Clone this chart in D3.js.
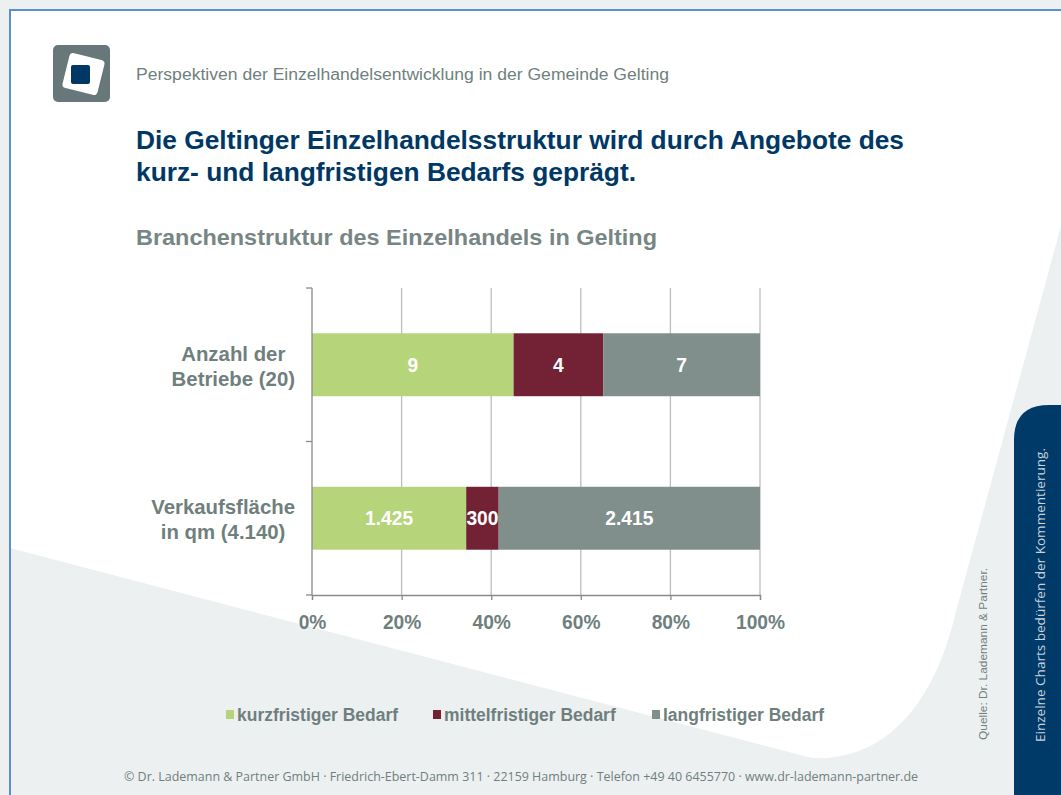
<!DOCTYPE html>
<html>
<head>
<meta charset="utf-8">
<script src="https://cdn.jsdelivr.net/npm/d3@7"></script>
<style>
  body { margin: 0; background: #fff; }
  svg { display: block; font-family: "Liberation Sans", Arial, sans-serif; }
</style>
</head>
<body>
<div id="chart"></div>
<script>
// data
const categories = ["Anzahl der Betriebe (20)", "Verkaufsfläche in qm (4.140)"];
const categoryLines = [["Anzahl der", "Betriebe (20)"], ["Verkaufsfläche", "in qm (4.140)"]];
const seriesNames = ["kurzfristiger Bedarf", "mittelfristiger Bedarf", "langfristiger Bedarf"];
const kurzfristig = [9, 1425];
const mittelfristig = [4, 300];
const langfristig = [7, 2415];
const xTicks = [0, 0.2, 0.4, 0.6, 0.8, 1];

const width = 1061;
const height = 795;
const colors = ["#b6d47a", "#722234", "#808e8c"];
const gray = "#6f7f7e";
const navy = "#003865";

const de = d3.formatLocale({ decimal: ",", thousands: ".", grouping: [3], currency: ["", "€"] });
const fmt = de.format(",d");
const pct = d3.format(".0%");

const svg = d3.select("#chart").append("svg")
  .attr("width", width)
  .attr("height", height);

// squeeze text to a target width (the slide uses a narrow rendering)
function fit(sel, w) {
  sel.attr("textLength", w).attr("lengthAdjust", "spacingAndGlyphs");
}

// background shapes
svg.append("rect").attr("width", width).attr("height", height).attr("fill", "#edf0f1");
svg.append("path")
  .attr("d", "M10,10 L1061,10 L1061,226 L955,615 C940,680 900,762 812,758 L10,548 Z")
  .attr("fill", "#fff");

// frame lines
svg.append("path")
  .attr("d", "M10,795 L10,10 L1061,10")
  .attr("fill", "none")
  .attr("stroke", "#5b8fd2")
  .attr("stroke-width", 2);

// side panel
svg.append("path")
  .attr("d", "M1014,795 L1014,440 Q1014,405 1049,405 L1061,405 L1061,795 Z")
  .attr("fill", "#003a68");
svg.append("text")
  .attr("transform", "translate(1045,742) rotate(-90)")
  .attr("font-family", "'Open Sans', sans-serif")
  .attr("font-size", 13)
  .attr("fill", "#c9d3dc")
  .text("Einzelne Charts bedürfen der Kommentierung.")
  .call(fit, 294);
svg.append("text")
  .attr("transform", "translate(987,740) rotate(-90)")
  .attr("font-family", "'Liberation Sans', sans-serif")
  .attr("font-size", 10)
  .attr("fill", gray)
  .text("Quelle:  Dr. Lademann & Partner.")
  .call(fit, 172);

// logo
svg.append("rect")
  .attr("x", 53).attr("y", 45).attr("width", 57).attr("height", 57).attr("rx", 5)
  .attr("fill", "#68787a");
svg.append("rect")
  .attr("x", -18).attr("y", -18).attr("width", 36).attr("height", 36).attr("rx", 4)
  .attr("transform", "translate(83.5,74) rotate(14)")
  .attr("fill", "#fff");
svg.append("rect")
  .attr("x", 71).attr("y", 65).attr("width", 19).attr("height", 19).attr("rx", 2)
  .attr("fill", navy);

// header texts
svg.append("text")
  .attr("x", 136).attr("y", 80)
  .attr("font-size", 16)
  .attr("fill", gray)
  .text("Perspektiven der Einzelhandelsentwicklung in der Gemeinde Gelting")
  .call(fit, 533);

const titleLines = ["Die Geltinger Einzelhandelsstruktur wird durch Angebote des", "kurz- und langfristigen Bedarfs geprägt."];
const titleWidths = [768, 500];
svg.selectAll(".title")
  .data(titleLines)
  .enter()
  .append("text")
  .attr("class", "title")
  .attr("x", 136)
  .attr("y", (d, i) => 149 + i * 32)
  .attr("font-size", 25)
  .attr("font-weight", "bold")
  .attr("fill", navy)
  .text((d) => d)
  .each(function (d, i) { d3.select(this).call(fit, titleWidths[i]); });

svg.append("text")
  .attr("x", 136).attr("y", 245)
  .attr("font-size", 22)
  .attr("font-weight", "bold")
  .attr("fill", "#778684")
  .text("Branchenstruktur des Einzelhandels in Gelting")
  .call(fit, 521);

// chart
const x = d3.scaleLinear().domain([0, 1]).range([312, 760]);
const y = d3.scaleBand().domain(categories).range([288, 595])
  .paddingInner(0.59).paddingOuter(0.295);

const g = svg.append("g");

// vertical gridlines
g.selectAll(".grid")
  .data(xTicks.slice(1))
  .enter()
  .append("line")
  .attr("x1", (d) => x(d)).attr("x2", (d) => x(d))
  .attr("y1", 288).attr("y2", 595)
  .attr("stroke", "#bdbdbd")
  .attr("stroke-width", 1.3);

// stacked shares
const rows = categories.map((c, i) => {
  const vals = [kurzfristig[i], mittelfristig[i], langfristig[i]];
  const total = d3.sum(vals);
  let acc = 0;
  return vals.map((v, j) => {
    const seg = { cat: c, j: j, value: v, x0: acc / total, x1: (acc + v) / total };
    acc += v;
    return seg;
  });
});

const segs = rows.flat();
g.selectAll(".bar")
  .data(segs)
  .enter()
  .append("rect")
  .attr("class", "bar")
  .attr("x", (d) => x(d.x0))
  .attr("width", (d) => x(d.x1) - x(d.x0))
  .attr("y", (d) => y(d.cat))
  .attr("height", y.bandwidth())
  .attr("fill", (d) => colors[d.j]);

g.selectAll(".val")
  .data(segs)
  .enter()
  .append("text")
  .attr("x", (d) => x((d.x0 + d.x1) / 2))
  .attr("y", (d) => y(d.cat) + y.bandwidth() / 2)
  .attr("dy", "0.36em")
  .attr("text-anchor", "middle")
  .attr("font-size", 20)
  .attr("font-weight", "bold")
  .attr("fill", "#fff")
  .text((d) => fmt(d.value))
  .each(function (d) {
    const w = this.getComputedTextLength();
    d3.select(this).call(fit, w * 0.96);
  });

// y axis
const yAxisTicks = [288, 288 + (595 - 288) / 2, 595];
g.append("line")
  .attr("x1", 312).attr("x2", 312).attr("y1", 288).attr("y2", 595)
  .attr("stroke", "#8a8a8a").attr("stroke-width", 1.3);
g.selectAll(".ytick")
  .data(yAxisTicks)
  .enter()
  .append("line")
  .attr("x1", 306).attr("x2", 312)
  .attr("y1", (d) => d).attr("y2", (d) => d)
  .attr("stroke", "#8a8a8a").attr("stroke-width", 1.3);

// x axis
const xAxis = g.append("g")
  .attr("transform", "translate(0,595)")
  .call(d3.axisBottom(x).tickValues(xTicks).tickFormat(pct).tickSize(5).tickPadding(15));
xAxis.select(".domain").attr("stroke", "#8a8a8a").attr("stroke-width", 1.3);
xAxis.selectAll(".tick line").attr("stroke", "#8a8a8a").attr("stroke-width", 1.3);
xAxis.selectAll(".tick text")
  .attr("font-family", "'Liberation Sans', Arial, sans-serif")
  .attr("font-size", 20)
  .attr("font-weight", "bold")
  .attr("fill", gray)
  .each(function () {
    const w = this.getComputedTextLength();
    d3.select(this).call(fit, w * 0.96);
  });

// category labels, lines centred in a block right-aligned at x=295
categories.forEach((c, i) => {
  const mid = y(c) + y.bandwidth() / 2;
  const t = g.append("g");
  const texts = t.selectAll("text")
    .data(categoryLines[i])
    .enter()
    .append("text")
    .attr("y", (d, k) => mid - 4 + k * 25)
    .attr("text-anchor", "middle")
    .attr("font-size", 21)
    .attr("font-weight", "bold")
    .attr("fill", gray)
    .text((d) => d);
  let maxW = 0;
  texts.each(function () {
    const w = this.getComputedTextLength() * 0.97;
    d3.select(this).call(fit, w);
    maxW = Math.max(maxW, w);
  });
  texts.attr("x", 295 - maxW / 2);
});

// legend
const legendX = [226, 433, 652];
const legend = svg.selectAll(".legend")
  .data(seriesNames)
  .enter()
  .append("g")
  .attr("transform", (d, i) => `translate(${legendX[i]},710)`);
legend.append("rect")
  .attr("width", 8).attr("height", 9)
  .attr("fill", (d, i) => colors[i]);
legend.append("text")
  .attr("x", 11).attr("y", 11)
  .attr("font-size", 18)
  .attr("font-weight", "bold")
  .attr("fill", gray)
  .text((d) => d)
  .each(function () {
    const w = this.getComputedTextLength();
    d3.select(this).call(fit, w * 0.97);
  });

// footer
svg.append("text")
  .attr("x", 124).attr("y", 781)
  .attr("font-family", "'Open Sans', sans-serif")
  .attr("font-size", 13)
  .attr("fill", gray)
  .text("© Dr. Lademann & Partner GmbH · Friedrich-Ebert-Damm 311 · 22159 Hamburg · Telefon +49 40 6455770 · www.dr-lademann-partner.de")
  .call(fit, 794);
</script>
</body>
</html>
